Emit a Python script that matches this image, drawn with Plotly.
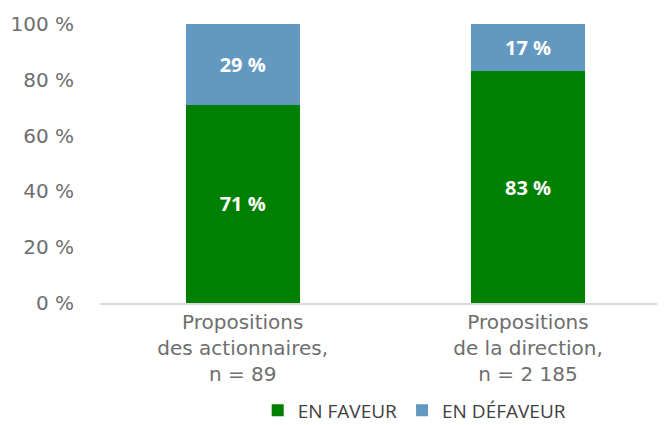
import plotly.graph_objects as go

categories = ["Propositions<br>des actionnaires,<br>n = 89", "Propositions<br>de la direction,<br>n = 2 185"]
en_faveur = [71, 83]
en_defaveur = [29, 17]
series_names = ["EN FAVEUR", "EN DÉFAVEUR"]
colors = ["#008000", "#6399C0"]
y_ticks = [0, 20, 40, 60, 80, 100]
y_ticklabels = [f"{v} %" for v in y_ticks]

x = list(range(len(categories)))
fig = go.Figure()
for name, vals, col in zip(series_names, [en_faveur, en_defaveur], colors):
    fig.add_trace(go.Bar(
        x=x, y=vals, name=name, marker=dict(color=col, line=dict(width=0)),
        width=0.4, text=[f"{v} %" for v in vals], textposition="inside",
        insidetextanchor="middle",
        textfont=dict(family="Open Sans", size=20, color="white", weight="bold"),
    ))

# page body has an 8px default margin; offsets below compensate for it
fig.update_layout(
    barmode="stack",
    width=665, height=425,
    margin=dict(l=92, r=8, t=16, b=130, autoexpand=False),
    plot_bgcolor="white", paper_bgcolor="white",
    font=dict(family="DejaVu Sans", color="#595959"),
    showlegend=True,
    legend=dict(orientation="h", x=0.557, xanchor="center", y=-0.385, yanchor="middle",
                font=dict(family="Open Sans", size=19, color="#404040"),
                itemwidth=30, traceorder="normal"),
    uniformtext=dict(mode="show", minsize=10),
)
fig.update_xaxes(range=[-0.5, 1.48], tickvals=x, ticktext=categories,
                 tickfont=dict(family="DejaVu Sans", size=20, color="#6e6e6e", weight="normal"),
                 showline=True, linecolor="#d9d9d9", linewidth=2, ticks="",
                 showgrid=False, zeroline=False, automargin=False)
fig.update_yaxes(range=[0, 100], tickvals=y_ticks, ticktext=y_ticklabels,
                 tickfont=dict(family="DejaVu Sans", size=20, color="#6e6e6e", weight="normal"),
                 showgrid=False, zeroline=False, showline=False, ticks="",
                 ticklabelstandoff=25, automargin=False)
fig.write_html("out.html")
